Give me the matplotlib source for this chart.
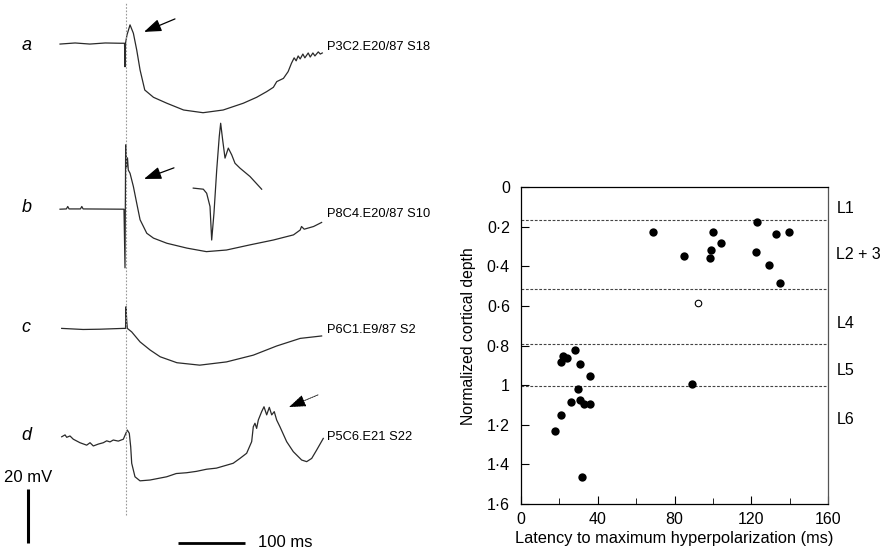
import matplotlib
matplotlib.use("Agg")
import matplotlib.pyplot as plt
import numpy as np

plt.rcParams['font.family'] = ['Liberation Sans', 'DejaVu Sans']

# ---------------- Left panel: intracellular traces (time ms, voltage mV rel. baseline)
trace_a_t = [-98.5, -76, -54, -31, -9, -2.2, -1.5, -0.7, 1.5, 6, 11, 16, 21, 28, 41, 61, 86, 115,
             145, 175, 195, 210, 220, 225, 235, 242, 247, 251, 254, 257, 260, 264, 267, 272, 275,
             279, 282, 287, 290, 293]
trace_a_v = [-0.3, 0.1, -0.3, 0.1, 0, 0, -8.7, 0.1, 3.1, 6.8, 3.7, -2.5, -9.9, -17.3, -20.0, -22.2,
             -24.7, -25.7, -24.7, -22.2, -20.0, -17.9, -16.3, -14.2, -13.0, -10.5, -7.4, -5.4, -6.5,
             -4.7, -5.8, -4.0, -5.4, -3.6, -5.1, -3.6, -4.7, -3.2, -4.0, -3.6]

trace_b_t = [-98.5, -89, -87, -85, -68, -66, -64, -3, -1.5, -0.5, 0.7, 2.2, 3.4, 6, 11, 16, 21, 31,
             41, 61, 91, 120, 150, 185, 220, 250, 260, 262, 266, 280, 292]
trace_b_v = [0, 0.1, 1.0, 0.1, 0.1, 1.0, 0.1, 0, -21.7, 23.8, 15.3, 19.0, 14.5, 13.3, 8.4, 2.2, -3.9,
             -8.9, -10.7, -12.6, -14.4, -15.7, -15.1, -13.2, -11.4, -9.5, -7.7, -6.4, -7.4, -6.4, -4.9]

inset_b_t = [100.4, 115.4, 120.4, 125.4, 127.9, 131.3, 135.4, 139.2, 141.3, 144.3, 147.8, 152.7,
             157.8, 162.7, 170.1, 185.1, 202.5]
inset_b_v = [7.8, 7.4, 5.9, 1.0, -11.4, -1.5, 14.5, 26.9, 31.8, 25.6, 18.9, 22.6, 20.1, 17.0, 15.2,
             12.1, 7.4]

trace_c_t = [-96, -64, -39, -4, -0.7, 0, 1, 2, 8.5, 21, 36, 51, 76, 110, 150, 190, 225, 260, 292]
trace_c_v = [0, -0.4, -0.3, 0, 0, 8.0, 3.1, 0, -1.3, -5.0, -8.0, -10.5, -12.7, -13.6, -12.4, -9.9,
             -6.5, -3.7, -2.8]

trace_d_t = [-96, -91, -88.5, -83.6, -78.7, -68.7, -58.7, -53.7, -48.8, -41.3, -33.9, -28.8, -23.9,
             -19, -11.5, -4, 1.9, 4.9, 7, 8.5, 13.4, 20.9, 35.8, 60.7, 75, 90.6, 105, 120.4, 135,
             150.3, 160, 170.1, 180.1, 187.6, 190, 192.5, 195, 197.5, 202.5, 206, 210, 213.9, 217.5,
             221.3, 224.9, 229.8, 239.8, 249.7, 262.2, 269.7, 277.2, 284.6, 294.5]
trace_d_v = [1.2, 1.9, 1.0, 1.5, 0.3, -1.0, -1.9, -1.0, -2.2, -1.5, -1.0, -0.3, -0.7, 0, -0.4, 0.3,
             3.7, 2.5, -2.5, -8.6, -13.6, -15.1, -14.8, -13.6, -12.4, -12.1, -11.6, -10.8, -10.4,
             -9.3, -8.6, -6.8, -4.9, -0.6, 4.9, 6.2, 4.3, 7.4, 10.5, 12.3, 9.3, 12.1, 9.3, 10.5, 7.4,
             4.9, -0.6, -4.3, -7.4, -8.0, -6.8, -3.7, 0.6]

trace_letters = ['a', 'b', 'c', 'd']
trace_ids = ['P3C2.E20/87 S18', 'P8C4.E20/87 S10', 'P6C1.E9/87 S2', 'P5C6.E21 S22']
scale_mv = 20
scale_ms = 100

# ---------------- Right panel: scatter
latency_filled = [68.7, 85.2, 98.3, 99.1, 100.3, 104.3, 123.1, 122.3, 133.0, 139.5, 129.4, 135.1,
                  88.9, 28.0, 22.1, 24.2, 20.9, 31.0, 36.2, 29.9, 30.8, 25.9, 33.0, 36.2, 20.9,
                  17.7, 32.0]
depth_filled = [0.227, 0.346, 0.356, 0.316, 0.227, 0.285, 0.176, 0.327, 0.238, 0.228, 0.395, 0.487,
                0.996, 0.823, 0.851, 0.865, 0.883, 0.893, 0.954, 1.021, 1.075, 1.083, 1.095, 1.095,
                1.153, 1.231, 1.464]
latency_open = [92.2]
depth_open = [0.588]
layer_bounds = [0.165, 0.517, 0.792, 1.004]
layer_names = ['L1', 'L2 + 3', 'L4', 'L5', 'L6']
layer_label_y = [0.106, 0.343, 0.691, 0.928, 1.176]
x_ticks = [0, 40, 80, 120, 160]
y_ticks = [0, 0.2, 0.4, 0.6, 0.8, 1.0, 1.2, 1.4, 1.6]
y_tick_labels = ['0', '0·2', '0·4', '0·6', '0·8', '1', '1·2', '1·4', '1·6']

W, H = 887, 553
fig = plt.figure(figsize=(W / 100, H / 100), dpi=100)

# ---- left axes: x in ms, y in mV (stacked)
axL = fig.add_axes([0, 0, 360 / W, 1])
axL.set_xlim(-188.1, 349.3)
axL.set_ylim(0, 204.6)
axL.axis('off')
offsets = [188.6, 127.2, 83.1, 41.8]
tc = '#2a2a2a'
traces = [(trace_a_t, trace_a_v), (trace_b_t, trace_b_v), (trace_c_t, trace_c_v), (trace_d_t, trace_d_v)]
for (t, v), off in zip(traces, offsets):
    axL.plot(t, np.array(v) + off, color=tc, lw=0.9, solid_joinstyle='round')
axL.plot(inset_b_t, np.array(inset_b_v) + offsets[1], color=tc, lw=0.9)

# stimulus marker
axL.plot([-0.7, -0.7], [14, 203.5], color='#999999', lw=0.8, ls=(0, (1.5, 1.5)))

letter_y = [187.6, 127.7, 83.6, 43.3]
id_y = [187.2, 125.4, 82.5, 42.9]
for L, ly, s, iy in zip(trace_letters, letter_y, trace_ids, id_y):
    axL.text(-156, ly, L, fontsize=13, style='italic', ha='left', va='center')
    axL.text(300, iy, s, fontsize=9.3, ha='left', va='center', clip_on=False)

# arrows
arrow_kw = dict(arrowstyle='-|>,head_length=1.05,head_width=0.38', color='black', lw=0.9,
                shrinkA=0, shrinkB=0)
axL.annotate('', xy=(26.9, 192.8), xytext=(73.1, 197.6), arrowprops=arrow_kw)
axL.annotate('', xy=(26.9, 138.4), xytext=(71.6, 142.5), arrowprops=arrow_kw)
axL.annotate('', xy=(243.3, 54.0), xytext=(286.6, 58.5),
             arrowprops=dict(arrow_kw, lw=0.6, linestyle=(0, (2, 1))))

# scale bars
axL.plot([-146.3, -146.3], [3.7, 3.7 + scale_mv], color='black', lw=2.2, solid_capstyle='butt')
axL.plot([77.6, 77.6 + scale_ms], [3.7, 3.7], color='black', lw=2.0, solid_capstyle='butt')
axL.text(-181.5, 27.8, '%d mV' % scale_mv, fontsize=12, ha='left', va='center')
axL.text(197, 3.9, '%d ms' % scale_ms, fontsize=12, ha='left', va='center')

# ---- right axes: scatter
axR = fig.add_axes([521 / W, (H - 504) / H, 307 / W, 317 / H])
axR.set_xlim(0, 160)
axR.set_ylim(1.6, 0)
for yb in layer_bounds:
    axR.axhline(yb, color='#444444', lw=0.8, ls=(0, (2.5, 1.5)))
axR.scatter(latency_filled, depth_filled, s=36, color='black', zorder=3, linewidths=0)
axR.scatter(latency_open, depth_open, s=22, facecolor='white', edgecolor='black', lw=0.8, zorder=3)
axR.set_xticks(x_ticks)
axR.set_xticks(np.arange(20, 160, 40), minor=True)
axR.set_yticks(y_ticks)
axR.set_yticklabels(y_tick_labels)
axR.tick_params(direction='in', length=6, width=0.8, labelsize=11.5, pad=6)
axR.tick_params(which='minor', direction='in', length=4, width=0.6)
axR.tick_params(axis='y', pad=8)
for sp in axR.spines.values():
    sp.set_linewidth(0.9)
axR.spines['right'].set_color('#555555')
axR.set_xlabel('Latency to maximum hyperpolarization (ms)', fontsize=11.8, labelpad=3)
axR.set_ylabel('Normalized cortical depth', fontsize=11.3, labelpad=7)
axR.yaxis.set_label_coords(-0.145, 0.53)
for name, ly in zip(layer_names, layer_label_y):
    axR.text(1.027, ly, name, transform=axR.get_yaxis_transform(), fontsize=11.5,
             ha='left', va='center', clip_on=False)

fig.savefig('out.png', dpi=100)
